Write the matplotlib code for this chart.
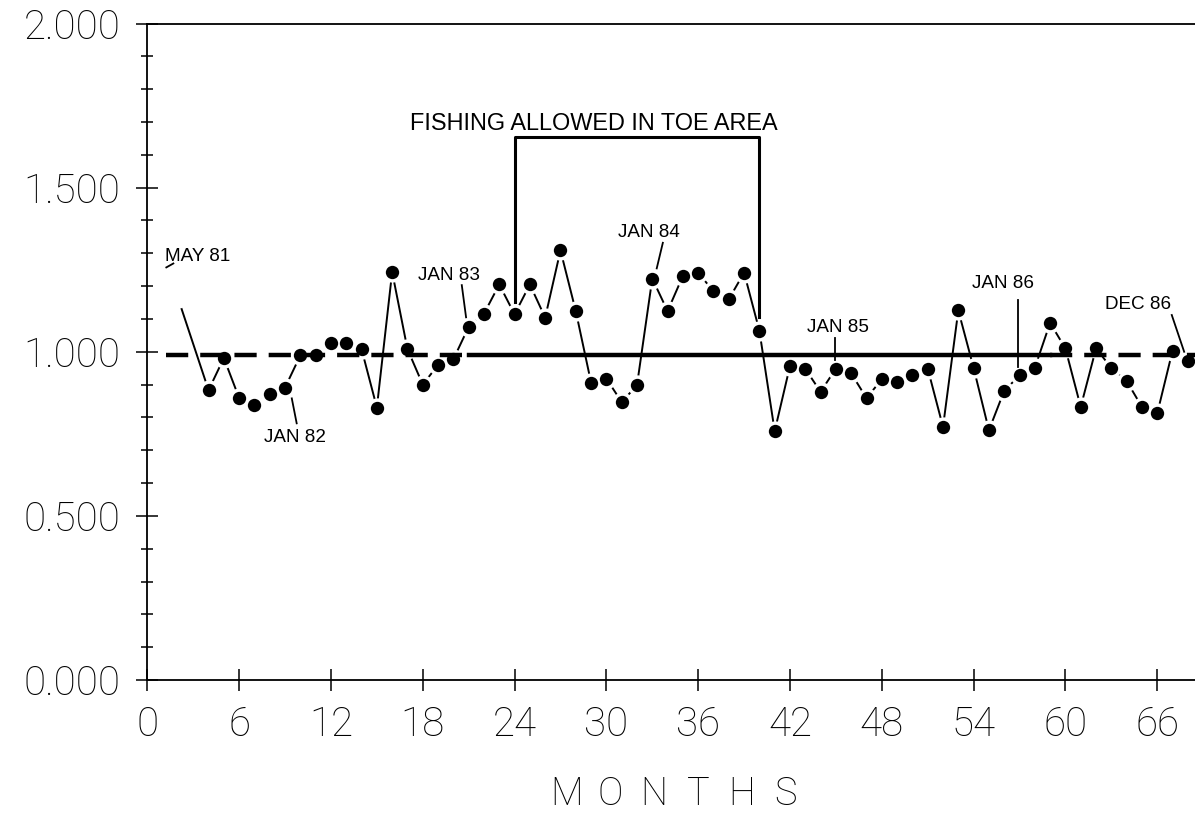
import matplotlib
matplotlib.use("Agg")
import matplotlib.pyplot as plt
from matplotlib.ticker import MultipleLocator, FormatStrFormatter

# monthly ratio values (month 2 has no visible dot, only the line)
months = [2] + list(range(4, 69))
values = [1.164,
          0.883, 0.981, 0.859, 0.839, 0.871, 0.891, 0.989, 0.989, 1.027, 1.027,
          1.008, 0.830, 1.243, 1.008, 0.900, 0.960, 0.977, 1.076, 1.116, 1.205,
          1.114, 1.205, 1.104, 1.309, 1.124, 0.906, 0.918, 0.847, 0.898, 1.223,
          1.124, 1.231, 1.241, 1.184, 1.160, 1.241, 1.064, 0.758, 0.957, 0.948,
          0.878, 0.949, 0.934, 0.859, 0.916, 0.908, 0.928, 0.949, 0.771, 1.126,
          0.951, 0.761, 0.881, 0.928, 0.951, 1.088, 1.010, 0.832, 1.010, 0.951,
          0.911, 0.832, 0.812, 1.003, 0.972]

# overall mean line and where it is drawn dashed / solid
mean_level = 0.989
mean_dashed_left = [1.2, 21]
mean_solid = [21, 59]
mean_dashed_right = [59, 68.5]

# fishing period bracket
fishing_start = 24
fishing_end = 40
fishing_top = 1.653
fishing_label = "FISHING ALLOWED IN TOE AREA"

# date labels: text, text position (month, value), leader start, leader end
date_labels = [
    ("MAY 81", (3.31, 1.278), (1.24, 1.257), (1.70, 1.269)),
    ("JAN 82", (9.67, 0.725), (9.44, 0.858), (9.76, 0.782)),
    ("JAN 83", (19.73, 1.219), (20.55, 1.203), (20.83, 1.105)),
    ("JAN 84", (32.80, 1.349), (33.69, 1.332), (33.29, 1.254)),
    ("JAN 85", (45.16, 1.061), (44.95, 1.041), (44.95, 0.975)),
    ("JAN 86", (55.91, 1.193), (56.93, 1.157), (56.93, 0.954)),
    ("DEC 86", (64.77, 1.129), (66.95, 1.112), (67.76, 1.000)),
]

x_ticks = list(range(0, 67, 6))
x_title = "MONTHS"

tick_font = {"family": ["Roboto", "DejaVu Sans"], "weight": "light"}
note_font = ["Liberation Sans", "DejaVu Sans"]

fig = plt.figure(figsize=(11.95, 8.14), dpi=100)
ax = fig.add_axes([0.1233, 0.1646, 0.8771, 0.8065])

# data line, with white discs to leave small gaps round every dot
ax.plot(months, values, color="black", lw=1.4, zorder=2, clip_on=False)
ax.plot(months, values, "o", color="white", ms=14.6, mew=0, zorder=3, clip_on=False)

ax.plot(mean_dashed_left, [mean_level] * 2, color="black", lw=3.2,
        ls=(0, (5.0, 2.7)), zorder=4)
ax.plot(mean_solid, [mean_level] * 2, color="black", lw=3.2, zorder=4)
ax.plot(mean_dashed_right, [mean_level] * 2, color="black", lw=3.2,
        ls=(0, (5.0, 2.7)), zorder=4)

ax.plot(months[1:], values[1:], "o", color="black", ms=9.6, mew=0, zorder=5,
        clip_on=False)

# bracket for the fishing period
v_start = values[months.index(fishing_start)]
v_end = values[months.index(fishing_end)]
ax.plot([fishing_start, fishing_start, fishing_end, fishing_end],
        [v_start + 0.039, fishing_top, fishing_top, v_end + 0.043],
        color="black", lw=2.2, zorder=4)
ax.text(29.17, 1.676, fishing_label, ha="center", va="baseline",
        fontsize=16.9, family=note_font)

for text, pos, p0, p1 in date_labels:
    ax.text(pos[0], pos[1], text, ha="center", va="baseline",
            fontsize=13.6, family=note_font)
    ax.plot([p0[0], p1[0]], [p0[1], p1[1]], color="black", lw=1.3, zorder=4)

ax.set_xlim(0, 68.5)
ax.set_ylim(0, 2)
ax.set_xticks(x_ticks)
ax.yaxis.set_major_locator(MultipleLocator(0.5))
ax.yaxis.set_minor_locator(MultipleLocator(0.1))
ax.yaxis.set_major_formatter(FormatStrFormatter("%.3f"))

ax.spines["right"].set_visible(False)
for s in ["left", "bottom", "top"]:
    ax.spines[s].set_linewidth(1.3)

ax.tick_params(which="major", direction="inout", length=16.5, width=1.1,
               pad=10, labelsize=29)
ax.tick_params(which="minor", direction="inout", length=8.6, width=1.1)
ax.tick_params(axis="y", pad=11)
for lab in ax.get_xticklabels() + ax.get_yticklabels():
    lab.set_family(tick_font["family"])
    lab.set_weight(tick_font["weight"])

# axis title, letters spread out like the original lettering
letter_pitch = 43.8 / 1195
x0 = 676 / 1195 - letter_pitch * (len(x_title) - 1) / 2
for i, ch in enumerate(x_title):
    fig.text(x0 + i * letter_pitch, 1 - 805 / 814, ch, ha="center",
             va="baseline", fontsize=27.4, family=tick_font["family"],
             weight="light")

fig.savefig("out.png", dpi=100)
